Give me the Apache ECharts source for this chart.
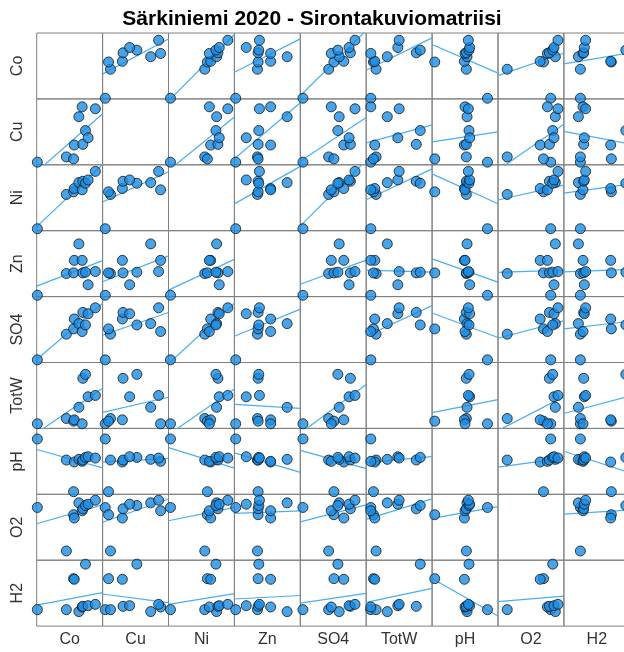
<!DOCTYPE html>
<html><head><meta charset="utf-8">
<script src="https://cdn.jsdelivr.net/npm/echarts@6/dist/echarts.min.js"></script>
<style>html,body{margin:0;padding:0;background:#fff}#c{width:624px;height:652px}</style>
</head><body><div id="c"></div>
<script>
const chartTitle = 'Särkiniemi 2020 - Sirontakuviomatriisi';
const varNames = ['Co', 'Cu', 'Ni', 'Zn', 'SO4', 'TotW', 'pH', 'O2', 'H2'];
// values, scaled to each variable's axis (0..1)
const Co   = [0.01, 0.45, 0.56, 0.57, 0.64, 0.69, 0.70, 0.74, 0.78, 0.89];
const Cu   = [0.04, 0.12, 0.09, 0.30, 0.73, 0.88, 0.31, 0.52, 0.41, 0.85];
const Ni   = [0.03, 0.55, 0.59, 0.64, 0.73, 0.62, 0.75, 0.72, 0.77, 0.90];
const Zn   = [0.02, 0.35, 0.36, 0.55, 0.80, 0.55, 0.36, 0.37, 0.18, 0.38];
const SO4  = [0.04, 0.43, 0.51, 0.66, 0.59, 0.47, 0.76, 0.57, 0.74, 0.83];
const TotW = [0.07, 0.15, 0.11, 0.13, 0.32, 0.07, 0.76, 0.82, 0.48, 0.50];
const pH   = [0.84, 0.52, 0.04, 0.49, 0.53, 0.50, 0.52, 0.56, 0.57, 0.55];
const O2   = [0.80, 0.14, 0.69, 0.64, 0.87, 0.75, 0.78, 0.83, 0.85, 0.91];
const H2   = [0.25, 0.25, 0.72, 0.71, 0.22, 0.29, 0.30, 0.94, 0.31, 0.33];
const columns = [Co, Cu, Ni, Zn, SO4, TotW, pH, O2, H2];

function linFit(x, y) {
  const n = x.length;
  const mx = x.reduce((a, b) => a + b, 0) / n;
  const my = y.reduce((a, b) => a + b, 0) / n;
  let sxy = 0, sxx = 0;
  for (let i = 0; i < n; i++) { sxy += (x[i] - mx) * (y[i] - my); sxx += (x[i] - mx) * (x[i] - mx); }
  const b = sxy / sxx;
  return { a: my - b * mx, b: b };
}

const L0 = 36.7, T0 = 33, S = 65.9;
const FONT = 'Liberation Sans, Arial, sans-serif';
const grids = [], xAxes = [], yAxes = [], series = [];
const axisCommon = {
  type: 'value', min: 0, max: 1,
  axisLine: { show: false }, axisTick: { show: false },
  axisLabel: { show: false }, splitLine: { show: false },
  nameLocation: 'middle'
};
for (let r = 0; r < 9; r++) {
  for (let c = 0; c < 9; c++) {
    const idx = r * 9 + c;
    grids.push({
      left: L0 + c * S, top: T0 + r * S, width: S, height: S,
      show: true, borderColor: '#808080', borderWidth: 1,
      containLabel: false, outerBoundsMode: 'none'
    });
    xAxes.push(Object.assign({}, axisCommon, {
      gridIndex: idx, name: r === 8 ? varNames[c] : '', nameGap: 5,
      nameTextStyle: { fontFamily: FONT, fontSize: 16, color: '#333' }
    }));
    yAxes.push(Object.assign({}, axisCommon, {
      gridIndex: idx, name: c === 0 ? varNames[r] : '', nameGap: 11, nameRotate: 90,
      nameTextStyle: { fontFamily: FONT, fontSize: 16, color: '#333' }
    }));
    if (r === c) continue;
    const xs = columns[c], ys = columns[r];
    const f = linFit(xs, ys);
    series.push({
      type: 'line', xAxisIndex: idx, yAxisIndex: idx,
      data: [[0, f.a], [1, f.a + f.b]],
      showSymbol: false, symbol: 'none', clip: true, silent: true, z: 2,
      lineStyle: { color: '#4aaef2', width: 1.2 }
    });
    series.push({
      type: 'scatter', xAxisIndex: idx, yAxisIndex: idx,
      data: xs.map((v, i) => [v, ys[i]]),
      symbol: 'circle', symbolSize: 10, clip: false, z: 3,
      itemStyle: { color: '#1a8ce3', borderColor: '#161616', borderWidth: 1 }
    });
  }
}

const chart = echarts.init(document.getElementById('c'), null, { renderer: 'canvas' });
chart.setOption({
  animation: false,
  backgroundColor: '#fff',
  title: {
    text: chartTitle, left: 'center', top: 4,
    textStyle: { fontFamily: FONT, fontSize: 21, fontWeight: 'bold', color: '#000' }
  },
  grid: grids, xAxis: xAxes, yAxis: yAxes, series: series
});
</script>
</body></html>
